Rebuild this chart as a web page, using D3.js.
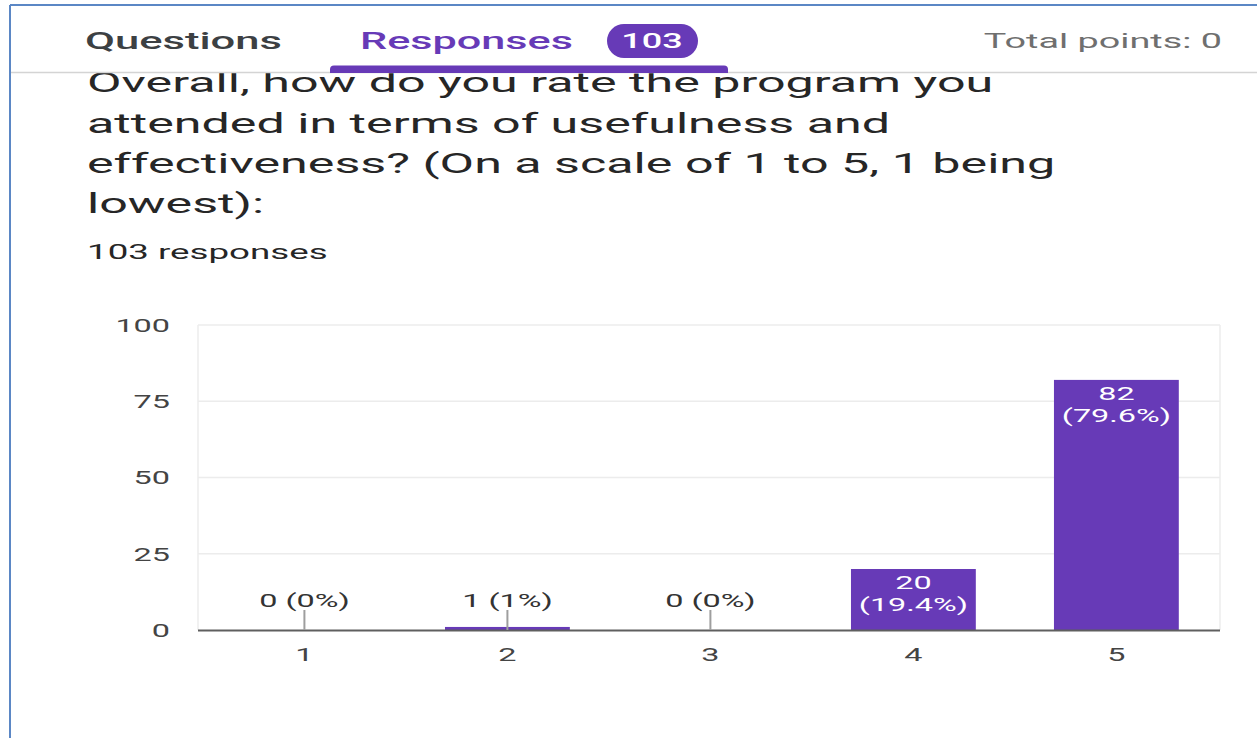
<!DOCTYPE html>
<html>
<head>
<meta charset="utf-8">
<script src="https://cdn.jsdelivr.net/npm/d3@7"></script>
<style>
  html, body { margin: 0; padding: 0; background: #ffffff; }
  svg { display: block; font-family: Roboto, "Noto Sans", Arial, sans-serif; }
</style>
</head>
<body>
<svg id="chart" width="1257" height="738"></svg>
<script>
// Survey answers: rating 1..5 and number of respondents
const ratings = ["1", "2", "3", "4", "5"];
const counts = [0, 1, 0, 20, 82];
const percents = ["0%", "1%", "0%", "19.4%", "79.6%"];
const yTicks = [0, 25, 50, 75, 100];
const totalResponses = 103;
const questionLines = [
  "Overall, how do you rate the program you",
  "attended in terms of usefulness and",
  "effectiveness? (On a scale of 1 to 5, 1 being",
  "lowest):"
];

const W = 1257, H = 738;
const SX = 1.8; // horizontal stretch of all glyphs
const purple = "#673ab7";

const svg = d3.select("#chart");

function label(parent, x, y, txt, opts) {
  const o = Object.assign({ size: 18, color: "#3c4043", anchor: "start", weight: 400 }, opts || {});
  return parent.append("text")
    .attr("transform", `translate(${x},${y}) scale(${SX},1)`)
    .attr("text-anchor", o.anchor)
    .attr("font-size", o.size)
    .attr("font-weight", o.weight)
    .attr("fill", o.color)
    .text(txt);
}

// Question text
const qBaselines = [92, 133, 173, 213];
questionLines.forEach((t, i) => label(svg, 87, qBaselines[i], t, { size: 27.9, color: "#262626" }));
label(svg, 87, 259, `${totalResponses} responses`, { size: 20.4, color: "#262626" });

// Header bar
svg.append("rect").attr("x", 10).attr("y", 5).attr("width", W - 10).attr("height", 67).attr("fill", "#ffffff");
svg.append("line").attr("x1", 10).attr("x2", W).attr("y1", 72.5).attr("y2", 72.5)
  .attr("stroke", "#d4d4d4").attr("stroke-width", 1.5);

label(svg, 85, 49, "Questions", { size: 24.2, color: "#3c4043", weight: 500 });
label(svg, 360, 49, "Responses", { size: 24, color: purple, weight: 500 });
svg.append("rect").attr("x", 607).attr("y", 24).attr("width", 91).attr("height", 34)
  .attr("rx", 17).attr("fill", purple);
label(svg, 652, 48, String(totalResponses), { size: 20, color: "#ffffff", anchor: "middle", weight: 500 });
svg.append("path")
  .attr("d", "M330,73 L330,69.5 Q330,65.5 334,65.5 L724,65.5 Q728,65.5 728,69.5 L728,73 Z")
  .attr("fill", purple);
label(svg, 1222, 48, "Total points: 0", { size: 21, color: "#6f6f6f", anchor: "end" });

// Frame
svg.append("line").attr("x1", 10).attr("x2", W).attr("y1", 5).attr("y2", 5)
  .attr("stroke", "#5b87c5").attr("stroke-width", 2);
svg.append("line").attr("x1", 10).attr("x2", 10).attr("y1", 5).attr("y2", H)
  .attr("stroke", "#5b87c5").attr("stroke-width", 2);

// Chart
const plot = { left: 198, right: 1220, top: 325, bottom: 630 };
const x = d3.scaleBand().domain(ratings).range([201.4, 1219.4]).paddingInner(0.385).paddingOuter(0.2);
const y = d3.scaleLinear().domain([0, 100]).range([plot.bottom, plot.top]);

const g = svg.append("g");

// Gridlines and plot border
g.selectAll("line.grid").data(yTicks.filter(d => d > 0)).join("line")
  .attr("class", "grid")
  .attr("x1", plot.left).attr("x2", plot.right)
  .attr("y1", d => y(d)).attr("y2", d => y(d))
  .attr("stroke", "#ececec").attr("stroke-width", 1.5);
[plot.left, plot.right].forEach(px => g.append("line")
  .attr("x1", px).attr("x2", px).attr("y1", plot.top).attr("y2", plot.bottom)
  .attr("stroke", "#ececec").attr("stroke-width", 1.5));

// Y axis labels
const yAxis = g.append("g").attr("transform", `translate(${plot.left},0)`)
  .call(d3.axisLeft(y).tickValues(yTicks).tickSize(0).tickPadding(0));
yAxis.select(".domain").remove();
yAxis.selectAll("text")
  .attr("x", null).attr("dy", "0.35em")
  .attr("transform", `translate(-28,0) scale(${SX},1)`)
  .attr("font-family", "Roboto, sans-serif").attr("font-size", 18).attr("fill", "#444444");

// X axis labels
const xAxis = g.append("g").attr("transform", `translate(0,${plot.bottom})`)
  .call(d3.axisBottom(x).tickSize(0).tickPadding(0));
xAxis.select(".domain").remove();
xAxis.selectAll("text")
  .attr("y", null).attr("dy", null)
  .attr("transform", `translate(0,31) scale(${SX},1)`)
  .attr("font-family", "Roboto, sans-serif").attr("font-size", 18).attr("fill", "#444444");

// Bars
g.selectAll("rect.bar").data(counts).join("rect")
  .attr("class", "bar")
  .attr("x", (d, i) => x(ratings[i]))
  .attr("width", x.bandwidth())
  .attr("y", d => y(d))
  .attr("height", d => y(0) - y(d))
  .attr("fill", purple);

// Baseline
g.append("line").attr("x1", plot.left).attr("x2", plot.right)
  .attr("y1", plot.bottom + 0.5).attr("y2", plot.bottom + 0.5)
  .attr("stroke", "#5f5f5f").attr("stroke-width", 2);

// Value labels: inside tall bars, above a leader line otherwise
counts.forEach((c, i) => {
  const cx = x(ratings[i]) + x.bandwidth() / 2;
  if (y(0) - y(c) > 45) {
    label(g, cx, y(c) + 20, String(c), { size: 18, color: "#ffffff", anchor: "middle" });
    label(g, cx, y(c) + 42, `(${percents[i]})`, { size: 18, color: "#ffffff", anchor: "middle" });
  } else {
    g.append("line").attr("x1", cx).attr("x2", cx)
      .attr("y1", y(0) - 20).attr("y2", y(0))
      .attr("stroke", "#9e9e9e").attr("stroke-width", 2);
    label(g, cx, y(0) - 23, `${c} (${percents[i]})`, { size: 18, color: "#333333", anchor: "middle" });
  }
});
</script>
</body>
</html>
